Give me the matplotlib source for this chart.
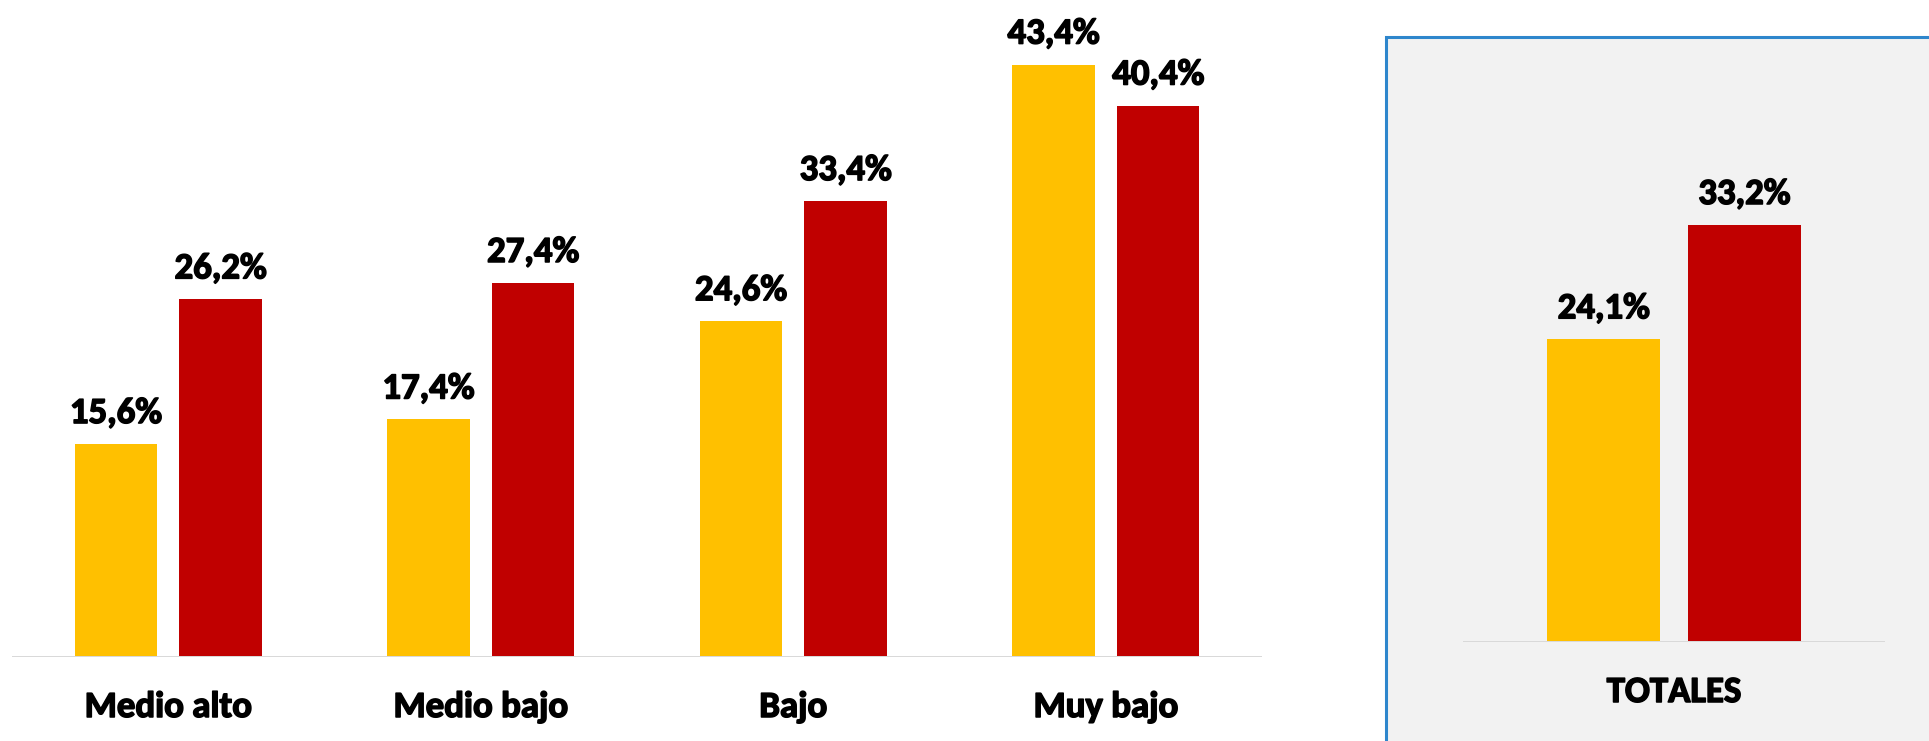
import matplotlib
matplotlib.use("Agg")
import matplotlib.pyplot as plt
import matplotlib.patheffects as pe
from matplotlib.patches import Rectangle
import numpy as np

categories = ["Medio alto", "Medio bajo", "Bajo", "Muy bajo"]
serie_a = [15.6, 17.4, 24.6, 43.4]
serie_b = [26.2, 27.4, 33.4, 40.4]
total_label = "TOTALES"
total_a = 24.1
total_b = 33.2

YELLOW = "#FFC000"
RED = "#C00000"
FONT = ["Carlito", "Lato", "DejaVu Sans"]
FS = 26.5
WEIGHT = "bold"
EFFECT = [pe.withStroke(linewidth=1.1, foreground="black")]

plt.rcParams["font.family"] = FONT
plt.rcParams["font.weight"] = "bold"

W, H, DPI = 1929, 741, 100
fig = plt.figure(figsize=(W / DPI, H / DPI), dpi=DPI)
fig.patch.set_facecolor("white")

def fx(px):
    return px / W

def fy(py_top):
    return (H - py_top) / H

def fmt(v):
    return f"{v:.1f}".replace(".", ",") + "%"

px_to_pt = 72 / DPI

# ---- right panel background (own axes underneath) ----
bg = fig.add_axes([0, 0, 1, 1], zorder=-5)
bg.set_xlim(0, W)
bg.set_ylim(H, 0)
bg.axis("off")
bg.add_patch(Rectangle((1386, 37), 700, 800, facecolor="#F2F2F2",
                       edgecolor="#2E86CC", linewidth=2.2))

# ---- left axes ----
ymax = 47
left_px, right_px, base_px = 12, 1262, 657
scale_l = 13.65
ax = fig.add_axes([fx(left_px), fy(base_px), fx(right_px - left_px),
                   ymax * scale_l / H])
ax.patch.set_alpha(0)
x = np.arange(len(categories))
off, bw = 0.1675, 0.264
ax.bar(x - off, serie_a, width=bw, color=YELLOW, zorder=2)
ax.bar(x + off, serie_b, width=bw, color=RED, zorder=2)
ax.set_xlim(-0.5, len(categories) - 0.5)
ax.set_ylim(0, ymax)
ax.axis("off")
ax.axhline(0, color="#D9D9D9", linewidth=2.0 * px_to_pt, zorder=3)
for xi, va_, vb_ in zip(x, serie_a, serie_b):
    for xx, v in ((xi - off, va_), (xi + off, vb_)):
        ax.annotate(fmt(v), xy=(xx, v), xytext=(0, 21 * px_to_pt),
                    textcoords="offset points", ha="center", va="baseline",
                    fontsize=FS, fontweight=WEIGHT, color="black",
                    path_effects=EFFECT)
for xi, c in zip(x, categories):
    ax.annotate(c, xy=(xi, 0), xytext=(0, -60 * px_to_pt),
                textcoords="offset points", ha="center", va="baseline",
                fontsize=FS, fontweight=WEIGHT, color="black",
                path_effects=EFFECT)

# ---- right axes ----
rl, rr, rbase = 1463, 1885, 642
scale_r = 12.56
ax2 = fig.add_axes([fx(rl), fy(rbase), fx(rr - rl), ymax * scale_r / H])
ax2.patch.set_alpha(0)
bw2 = 113 / ((rr - rl) / 3.0)
ax2.bar([-0.5], [total_a], width=bw2, color=YELLOW, zorder=2)
ax2.bar([0.5], [total_b], width=bw2, color=RED, zorder=2)
ax2.set_xlim(-1.5, 1.5)
ax2.set_ylim(0, ymax)
ax2.axis("off")
ax2.axhline(0, color="#D9D9D9", linewidth=2.0 * px_to_pt, zorder=3)
for xx, v in ((-0.5, total_a), (0.5, total_b)):
    ax2.annotate(fmt(v), xy=(xx, v), xytext=(0, 21 * px_to_pt),
                 textcoords="offset points", ha="center", va="baseline",
                 fontsize=FS, fontweight=WEIGHT, color="black",
                 path_effects=EFFECT)
ax2.annotate(total_label, xy=(0, 0), xytext=(0, -60 * px_to_pt),
             textcoords="offset points", ha="center", va="baseline",
             fontsize=FS, fontweight=WEIGHT, color="black",
             path_effects=EFFECT)

fig.savefig("out.png", dpi=DPI, facecolor="white")
